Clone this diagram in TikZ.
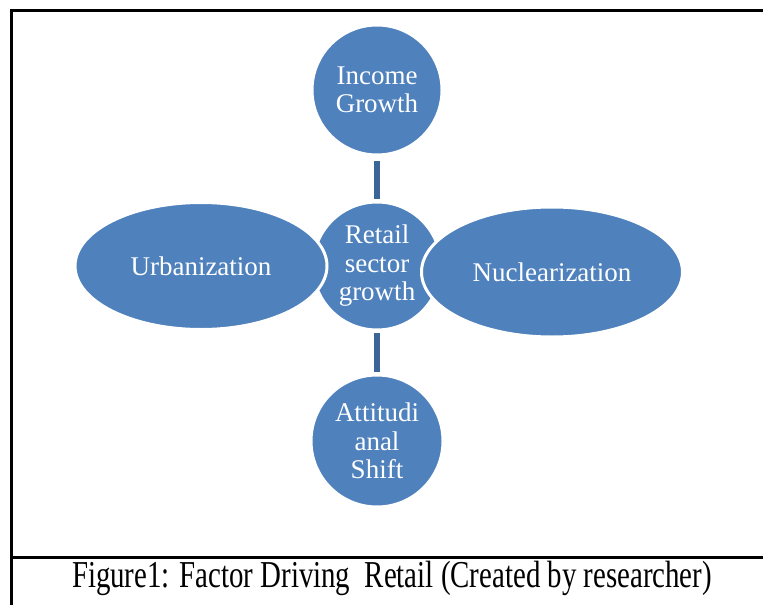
\documentclass[tikz,border=0pt]{standalone}
\usepackage{fontspec}
\setmainfont{Liberation Serif}
\usetikzlibrary{shapes.geometric}
\definecolor{petal}{HTML}{4F81BD}
\definecolor{stem}{HTML}{3D6698}
\tikzset{
  every picture/.style={x=1bp,y=-1bp},
  bubble/.style={circle,fill=petal,draw=white,line width=3bp,text=white,
    inner sep=0pt,align=center,font=\fontsize{27bp}{28.5bp}\selectfont},
  oval/.style={ellipse,fill=petal,draw=white,line width=3bp,text=white,
    inner sep=0pt,align=center,font=\fontsize{27bp}{28.5bp}\selectfont},
  stembar/.style={draw=stem,line width=6bp},
  frameline/.style={draw=black,line width=3bp},
}
\begin{document}
\begin{tikzpicture}
\useasboundingbox (0,0) rectangle (763,605);
% frame
\draw[frameline] (763,11) -- (11,11) -- (11,605);
\draw[frameline] (11,557) -- (763,557);
% hub and spokes
\node[bubble,minimum size=128bp] (ret) at (377,266) {Retail\\sector\\growth};
\node[bubble,minimum size=130bp] (inc) at (377,90) {Income\\Growth};
\node[bubble,minimum size=132bp] (att) at (377,441) {Attitudi\\anal\\Shift};
\node[oval,minimum width=252bp,minimum height=127bp] (urb) at (201,266) {Urbanization};
\node[oval,minimum width=261bp,minimum height=130bp] (nuc) at (552,272) {Nuclearization};
\draw[stembar,shorten <=4.5bp,shorten >=1.5bp] (inc.south) -- (ret.north);
\draw[stembar,shorten <=1.5bp,shorten >=1.5bp] (ret.south) -- (att.north);
% caption
\node[font=\fontsize{38bp}{40bp}\selectfont,xscale=0.76,inner sep=0pt] (cap) at (392,578)
  {Figure1: Factor Driving\ \ Retail (Created by researcher)};
\end{tikzpicture}
\end{document}
